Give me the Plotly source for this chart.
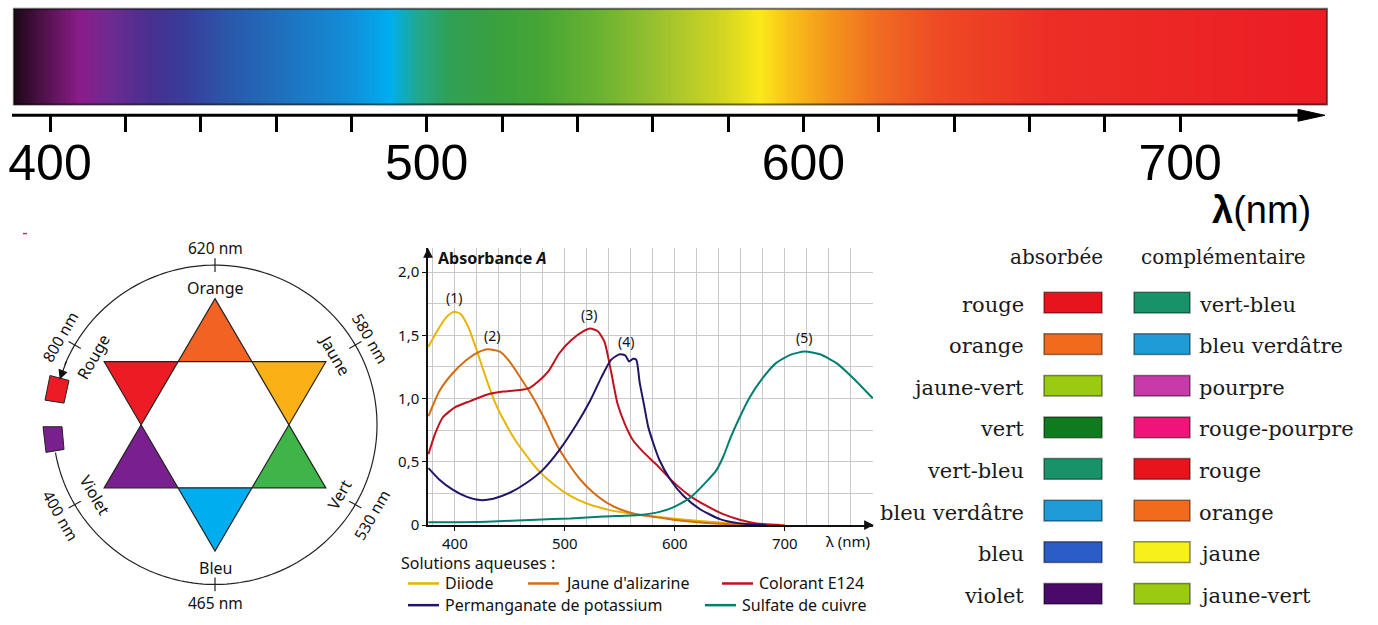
import numpy as np
import plotly.graph_objects as go

W, H = 1378, 625

# ---------------- data ----------------
# visible spectrum colour stops (wavelength nm, colour)
spectrum_nm = [390.4, 397.3, 408.0, 416.0, 426.5, 434.5, 447.8, 463.7, 479.6, 490.3,
               498.2, 506.0, 516.8, 530.0, 546.0, 562.0, 577.8, 588.5, 596.4, 607.0,
               620.3, 636.0, 665.5, 739.0]
spectrum_colors = ["#1c0816", "#4a1044", "#8a1c8a", "#6e2a90", "#48308f", "#3a3a98",
                   "#2a58aa", "#1e74c0", "#128ed8", "#00aeef", "#22a88a", "#30a055",
                   "#38a040", "#45a535", "#6ab232", "#9cc22e", "#d0d422", "#fbe81a",
                   "#f8c019", "#f4961c", "#f06a22", "#ee4a24", "#ec2e26", "#ec1c24"]
spectrum_major_ticks = [400, 500, 600, 700]
spectrum_minor_ticks = [420, 440, 460, 480, 520, 540, 560, 580, 620, 640, 660, 680]

# absorbance spectra
diiode_nm = [376, 385, 392, 399, 405, 412, 420, 428, 436, 445, 455, 465, 475, 490, 505,
             520, 540, 560, 580, 600, 625, 650, 675, 700]
diiode_A = [1.41, 1.55, 1.64, 1.685, 1.67, 1.57, 1.38, 1.17, 0.98, 0.82, 0.67, 0.55, 0.44,
            0.32, 0.23, 0.17, 0.12, 0.09, 0.07, 0.05, 0.03, 0.015, 0.005, 0.0]

alizarine_nm = [376, 386, 398, 410, 421, 430, 441, 450, 460, 471, 482, 492, 503, 514, 526,
                538, 550, 565, 580, 598, 629, 659, 686, 700]
alizarine_A = [0.86, 1.06, 1.20, 1.30, 1.365, 1.39, 1.37, 1.29, 1.16, 1.01, 0.83, 0.645,
               0.49, 0.36, 0.255, 0.177, 0.125, 0.086, 0.066, 0.042, 0.016, 0.004, 0.0, 0.0]

e124_nm = [376, 382, 389, 400, 414, 429, 444, 459, 467, 476, 485, 495, 506, 517, 523,
           530, 536, 542, 548, 555, 562, 571, 583, 598, 614, 629, 644, 659, 674, 696]
e124_A = [0.56, 0.72, 0.85, 0.93, 0.98, 1.03, 1.055, 1.067, 1.08, 1.137, 1.215, 1.358,
          1.462, 1.532, 1.553, 1.532, 1.449, 1.215, 0.956, 0.79, 0.67, 0.58, 0.48, 0.345,
          0.229, 0.151, 0.086, 0.042, 0.013, 0.0]

kmno4_nm = [376, 386, 398, 411, 423, 435, 450, 465, 480, 495, 511, 523, 533, 542, 550,
            555, 558.5, 562, 565, 568, 572, 576, 586, 596, 608, 623, 641, 659, 683]
kmno4_A = [0.45, 0.358, 0.28, 0.223, 0.197, 0.208, 0.255, 0.332, 0.436, 0.592, 0.80,
           0.982, 1.163, 1.306, 1.35, 1.34, 1.293, 1.314, 1.306, 1.13, 0.95, 0.77, 0.514,
           0.358, 0.229, 0.125, 0.047, 0.013, 0.0]

cuso4_nm = [376, 429, 474, 505, 535, 568, 586, 598, 614, 629, 638, 644, 651, 659, 668,
            680, 692, 705, 718, 732, 747, 762, 780]
cuso4_A = [0.021, 0.026, 0.042, 0.052, 0.068, 0.08, 0.104, 0.138, 0.216, 0.345, 0.436,
           0.54, 0.696, 0.852, 1.008, 1.163, 1.28, 1.345, 1.371, 1.35, 1.28, 1.163, 1.002]

series_names = ["Diiode", "Jaune d'alizarine", "Colorant E124",
                "Permanganate de potassium", "Sulfate de cuivre"]
series_x = [diiode_nm, alizarine_nm, e124_nm, kmno4_nm, cuso4_nm]
series_y = [diiode_A, alizarine_A, e124_A, kmno4_A, cuso4_A]
series_colors = ["#e8b400", "#d46d12", "#c0121e", "#221565", "#007f70"]
peak_labels = ["(1)", "(2)", "(3)", "(4)", "(5)"]
peak_label_pos = [(399, 1.80), (433.4, 1.496), (521.8, 1.663), (555.5, 1.449), (717.3, 1.48)]

abs_ticks = [0, 0.5, 1.0, 1.5, 2.0]
abs_ticktext = ["0", "0,5", "1,0", "1,5", "2,0"]

# colour wheel
wheel_colors = ["#f26222", "#fbb116", "#3fb449", "#00aeef", "#7a1f8e", "#ed1c24"]
wheel_names = ["Orange", "Jaune", "Vert", "Bleu", "Violet", "Rouge"]
wheel_nm = ["620 nm", "580 nm", "530 nm", "465 nm", "400 nm", "800 nm"]

# table
absorbed_names = ["rouge", "orange", "jaune-vert", "vert", "vert-bleu", "bleu verdâtre", "bleu", "violet"]
absorbed_colors = ["#e8141c", "#f26a1b", "#9acb12", "#0f7a1e", "#17936a", "#1e9cd7", "#2b5cc8", "#4a0a6a"]
complement_names = ["vert-bleu", "bleu verdâtre", "pourpre", "rouge-pourpre", "rouge", "orange", "jaune", "jaune-vert"]
complement_colors = ["#17936a", "#1e9cd7", "#c83aa8", "#f0147a", "#e8141c", "#f26a1b", "#f7f01a", "#9acb12"]

# ---------------- figure ----------------
fig = go.Figure()
shapes = []
ann = []
FONT = "'Noto Sans', 'Open Sans', sans-serif"

# --- spectrum bar (heatmap on wavelength axis x2) ---
lam_min, lam_max = spectrum_nm[0], spectrum_nm[-1]
edges = np.linspace(lam_min, lam_max, 800)
mids = (edges[:-1] + edges[1:]) / 2
cscale = [[(l - lam_min) / (lam_max - lam_min), c] for l, c in zip(spectrum_nm, spectrum_colors)]
fig.add_trace(go.Heatmap(x=edges, y=[9, 106], z=[mids], colorscale=cscale,
                         zmin=lam_min, zmax=lam_max, showscale=False, hoverinfo="skip",
                         xaxis="x2", yaxis="y"))
# invisible carrier trace so the label axis (x4) is drawn
fig.add_trace(go.Scatter(x=spectrum_major_ticks, y=[None] * len(spectrum_major_ticks),
                         mode="markers", hoverinfo="skip", showlegend=False,
                         xaxis="x4", yaxis="y"))
shapes.append(dict(type="rect", xref="x2", yref="y", x0=lam_min, x1=lam_max, y0=9, y1=106,
                   line=dict(color="rgba(0,0,0,0.55)", width=2)))
# spectrum axis line + arrow
shapes.append(dict(type="line", xref="x", yref="y", x0=12, x1=1305, y0=117, y1=117,
                   line=dict(color="black", width=3)))
shapes.append(dict(type="path", xref="x", yref="y", path="M 1298 111 L 1325 117 L 1298 123 Z",
                   fillcolor="black", line=dict(color="black", width=1)))
ann.append(dict(xref="x", yref="y", x=1261, y=213, showarrow=False,
                text="<b>λ</b>(nm)", font=dict(family="Liberation Sans", size=38, color="black")))

# --- colour wheel ---
cx, cy, R, rin, rc = 215, 431, 128, 128 / np.sqrt(3), 162

def pt(r, a):
    return cx + r * np.cos(np.radians(a)), cy - r * np.sin(np.radians(a))

outer_angles = [90, 30, -30, -90, -150, 150]
for a, col in zip(outer_angles, wheel_colors):
    p0 = pt(R, a); p1 = pt(rin, a + 30); p2 = pt(rin, a - 30)
    shapes.append(dict(type="path", xref="x", yref="y",
                       path=f"M {p0[0]:.2f} {p0[1]:.2f} L {p1[0]:.2f} {p1[1]:.2f} L {p2[0]:.2f} {p2[1]:.2f} Z",
                       fillcolor=col, line=dict(width=0)))
for tri in ([90, -30, -150], [30, -90, 150]):
    pts = [pt(R, a) for a in tri]
    shapes.append(dict(type="path", xref="x", yref="y",
                       path="M " + " L ".join(f"{x:.2f} {y:.2f}" for x, y in pts) + " Z",
                       line=dict(color="#222", width=1.2)))
# circle arc with gap on the left
arc = np.linspace(190, 360 + 158, 200)
arc_pts = [pt(rc, a) for a in arc]
shapes.append(dict(type="path", xref="x", yref="y",
                   path="M " + " L ".join(f"{x:.2f} {y:.2f}" for x, y in arc_pts),
                   line=dict(color="#222", width=1.2)))
tip = pt(rc, 163.5); tail = pt(rc, 156)
ann.append(dict(xref="x", yref="y", axref="x", ayref="y", x=tip[0], y=tip[1], ax=tail[0], ay=tail[1],
                text="", showarrow=True, arrowhead=2, arrowsize=1.6, arrowwidth=1.2, arrowcolor="#111"))
# radial ticks
for a in [90, 30, -30, -90, -150, 150]:
    p0 = pt(rc - 7, a); p1 = pt(rc + 7, a)
    shapes.append(dict(type="line", xref="x", yref="y", x0=p0[0], y0=p0[1], x1=p1[0], y1=p1[1],
                       line=dict(color="#222", width=1.2)))
# little swatches on the gap
shapes.append(dict(type="path", xref="x", yref="y", path="M 50 381 L 69 386 L 64 409 L 45 406 Z",
                   fillcolor="#ed1c24", line=dict(color="#222", width=1)))
shapes.append(dict(type="path", xref="x", yref="y", path="M 43 433 L 62 433 L 64 456 L 46 459 Z",
                   fillcolor="#7a1f8e", line=dict(color="#222", width=1)))
shapes.append(dict(type="line", xref="x", yref="y", x0=23, x1=27, y0=237, y1=237,
                   line=dict(color="#e0207a", width=1.5)))
# wheel labels: (x, y, angle)
wheel_name_pos = [(215, 292, 0), (335, 360, 60), (339, 502, -60), (215, 576, 0), (95, 502, 60), (93, 362, -60)]
wheel_nm_pos = [(215, 252, 0), (370, 343, 60), (372, 523, -60), (215, 612, 0), (60, 523, 60), (60, 342, -60)]
for name, (x, y, a) in zip(wheel_names, wheel_name_pos):
    ann.append(dict(xref="x", yref="y", x=x, y=y, text=name, showarrow=False, textangle=a,
                    font=dict(family=FONT, size=16, color="#111")))
for name, (x, y, a) in zip(wheel_nm, wheel_nm_pos):
    ann.append(dict(xref="x", yref="y", x=x, y=y, text=name, showarrow=False, textangle=a,
                    font=dict(family=FONT, size=15.5, color="#111")))

# --- absorbance chart ---
for nm, A, col, name in zip(series_x, series_y, series_colors, series_names):
    fig.add_trace(go.Scatter(x=nm, y=A, mode="lines", name=name, showlegend=False,
                             line=dict(color=col, width=2, shape="spline", smoothing=0.6),
                             xaxis="x3", yaxis="y3"))
for lab, (x, y) in zip(peak_labels, peak_label_pos):
    ann.append(dict(xref="x3", yref="y3", x=x, y=y, text=lab, showarrow=False,
                    font=dict(family=FONT, size=14, color="#111")))
ann.append(dict(xref="x", yref="y", x=436, y=262, xanchor="left", text="<b>Absorbance <i>A</i></b>",
                showarrow=False, font=dict(family=FONT, size=16, color="#111")))
ann.append(dict(xref="x", yref="y", x=848, y=549, text="λ (nm)", showarrow=False,
                font=dict(family=FONT, size=15, color="#111")))
ann.append(dict(xref="x3", yref="y3", axref="x3", ayref="y3", x=781, y=0, ax=772, ay=0, text="",
                showarrow=True, arrowhead=2, arrowsize=1.3, arrowwidth=1.5, arrowcolor="#111"))
ann.append(dict(xref="x3", yref="y3", axref="x3", ayref="y3", x=375.6, y=2.19, ax=375.6, ay=2.1, text="",
                showarrow=True, arrowhead=2, arrowsize=1.3, arrowwidth=1.5, arrowcolor="#111"))
# manual legend
ann.append(dict(xref="x", yref="y", x=399, y=571, xanchor="left", text="Solutions aqueuses :",
                showarrow=False, font=dict(family=FONT, size=16, color="#111")))
legend_pos = [(408, 592), (528, 592), (722, 592), (408, 614), (705, 614)]
for name, col, (x, y) in zip(series_names, series_colors, legend_pos):
    shapes.append(dict(type="line", xref="x", yref="y", x0=x, x1=x + 31, y0=y, y1=y,
                       line=dict(color=col, width=2.5)))
    ann.append(dict(xref="x", yref="y", x=x + 35, y=y, xanchor="left", text=name, showarrow=False,
                    font=dict(family=FONT, size=16, color="#111")))

# --- table ---
TFONT = "DejaVu Serif, Liberation Serif, serif"
ann.append(dict(xref="x", yref="y", x=1056, y=261, text="absorbée", showarrow=False,
                font=dict(family=TFONT, size=20, color="#1a1a1a")))
ann.append(dict(xref="x", yref="y", x=1223, y=261, text="complémentaire", showarrow=False,
                font=dict(family=TFONT, size=20, color="#1a1a1a")))
for i, (an, ac, cn, cc) in enumerate(zip(absorbed_names, absorbed_colors, complement_names, complement_colors)):
    yc = 307 + i * 42.2
    shapes.append(dict(type="rect", xref="x", yref="y", x0=1044, x1=1102, y0=yc - 10.5, y1=yc + 10.5,
                       fillcolor=ac, line=dict(color="rgba(0,0,0,0.45)", width=1.5)))
    shapes.append(dict(type="rect", xref="x", yref="y", x0=1134, x1=1190, y0=yc - 10.5, y1=yc + 10.5,
                       fillcolor=cc, line=dict(color="rgba(0,0,0,0.45)", width=1.5)))
    ann.append(dict(xref="x", yref="y", x=1026, y=yc + 2, xanchor="right", text=an, showarrow=False,
                    font=dict(family=TFONT, size=21, color="#1a1a1a")))
    ann.append(dict(xref="x", yref="y", x=1197, y=yc + 2, xanchor="left", text=cn, showarrow=False,
                    font=dict(family=TFONT, size=21, color="#1a1a1a")))

grid_col = "#c9c9c9"
spec_range = [400 - 50 / 3.767, 400 + (W - 50) / 3.767]
fig.update_layout(
    width=W, height=H, margin=dict(l=0, r=0, t=0, b=0),
    paper_bgcolor="white", plot_bgcolor="rgba(0,0,0,0)", showlegend=False,
    xaxis=dict(domain=[0, 1], range=[0, W], visible=False, fixedrange=True),
    yaxis=dict(domain=[0, 1], range=[H, 0], visible=False, fixedrange=True),
    # tick marks of the spectrum scale
    xaxis2=dict(domain=[0, 1], range=spec_range, overlaying="x",
                anchor="free", position=1 - 117 / H, side="bottom", showline=False, showgrid=False,
                zeroline=False, tickmode="array", tickvals=spectrum_major_ticks, showticklabels=False,
                ticks="outside", ticklen=16, tickwidth=3, tickcolor="black",
                minor=dict(tickvals=spectrum_minor_ticks, ticks="outside", ticklen=16, tickwidth=3,
                           tickcolor="black", showgrid=False)),
    # tick labels of the spectrum scale
    xaxis4=dict(domain=[0, 1], range=spec_range, overlaying="x",
                anchor="free", position=1 - 131 / H, side="bottom", showline=False, showgrid=False,
                zeroline=False, tickmode="array", tickvals=spectrum_major_ticks, ticks="",
                tickfont=dict(family="Liberation Sans", size=50, color="black")),
    xaxis3=dict(domain=[428 / W, 873 / W], range=[375.6, 780.2], anchor="y3",
                showline=True, linecolor="#111", linewidth=1.5, zeroline=False,
                tickmode="linear", tick0=400, dtick=100, ticks="outside", ticklen=4, tickcolor="#111",
                showgrid=True, gridcolor=grid_col, gridwidth=1,
                minor=dict(tick0=380, dtick=20, showgrid=True, gridcolor=grid_col, gridwidth=1),
                tickfont=dict(family=FONT, size=15, color="#111")),
    yaxis3=dict(domain=[1 - 532.7 / H, 1 - 252 / H], range=[0, 2.187], anchor="x3",
                showline=True, linecolor="#111", linewidth=1.5, zeroline=False,
                tickmode="array", tickvals=abs_ticks, ticktext=abs_ticktext, ticks="outside",
                ticklen=4, tickcolor="#111", showgrid=True, gridcolor=grid_col, gridwidth=1,
                minor=dict(tick0=0, dtick=0.25, showgrid=True, gridcolor=grid_col, gridwidth=1),
                tickfont=dict(family=FONT, size=15, color="#111")),
    shapes=shapes, annotations=ann,
)

fig.write_html("out.html", config={"displayModeBar": False},
               post_script="document.body.style.margin='0';document.body.style.overflow='hidden';")
